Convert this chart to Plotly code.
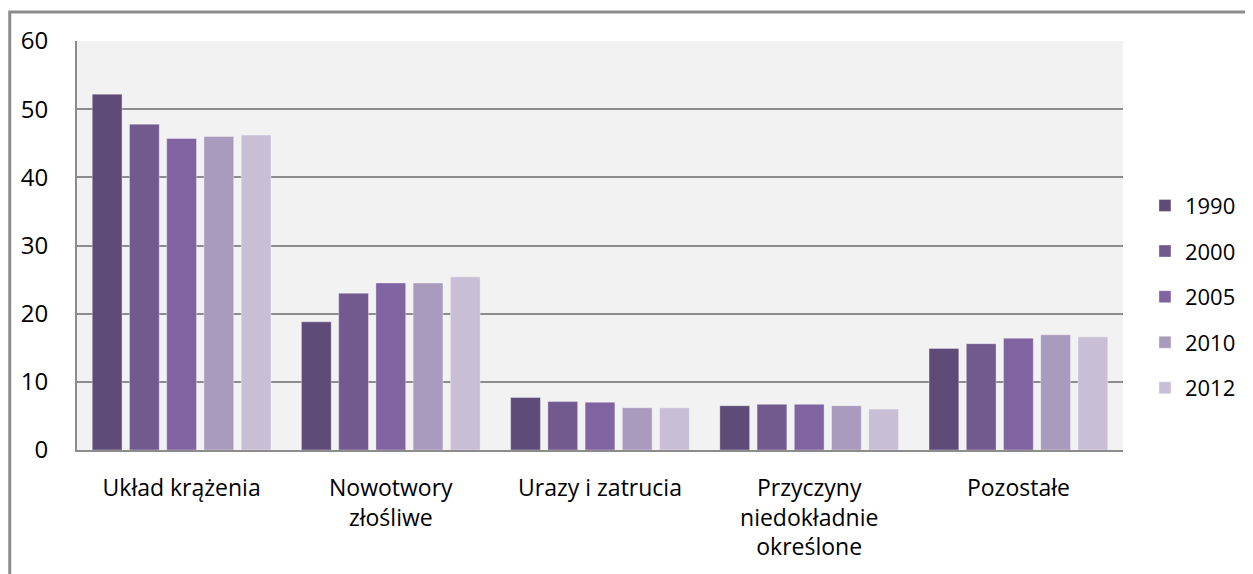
import plotly.graph_objects as go

categories = ["Układ krążenia", "Nowotwory<br>złośliwe", "Urazy i zatrucia",
              "Przyczyny<br>niedokładnie<br>określone", "Pozostałe"]
years = ["1990", "2000", "2005", "2010", "2012"]

v1990 = [52.2, 18.8, 7.7, 6.5, 14.9]
v2000 = [47.8, 23.0, 7.1, 6.7, 15.6]
v2005 = [45.7, 24.5, 7.0, 6.7, 16.4]
v2010 = [46.0, 24.5, 6.2, 6.5, 16.9]
v2012 = [46.2, 25.4, 6.2, 6.0, 16.6]

colors = ["#5F4B77", "#72598E", "#8064A2", "#A99BBD", "#C8BFD7"]
series = [v1990, v2000, v2005, v2010, v2012]

fig = go.Figure()
for year, vals, c in zip(years, series, colors):
    fig.add_trace(go.Bar(
        name=year, x=categories, y=vals,
        marker=dict(color=c, line=dict(color="rgba(255,255,255,0.35)", width=1)),
        legendgroup=year,
    ))

# page has an 8px body margin, so the figure is 8px smaller than the window
fig.update_layout(
    width=1245, height=566,
    margin=dict(l=69, r=126, t=33, b=124),
    paper_bgcolor="white",
    plot_bgcolor="#F2F2F2",
    font=dict(family="Open Sans", size=23, color="#000000"),
    barmode="group",
    bargap=0.11,
    bargroupgap=0.2,
    showlegend=True,
    legend=dict(
        x=1.021, xanchor="left", y=0.375, yanchor="middle",
        tracegroupgap=14, font=dict(size=22),
        bgcolor="rgba(0,0,0,0)",
    ),
)

fig.update_yaxes(
    range=[0, 60], dtick=10, tickfont=dict(size=24),
    showgrid=True, gridcolor="#8C8C8C", gridwidth=2,
    showline=True, linecolor="#8C8C8C", linewidth=2,
    zeroline=False, ticks="", ticklabelstandoff=22,
)
fig.update_xaxes(
    showline=True, linecolor="#8C8C8C", linewidth=2,
    ticks="", ticklabelstandoff=16, tickangle=0,
)

# outer chart border (only left and top edge visible)
fig.add_shape(
    type="rect", xref="paper", yref="paper",
    x0=-0.0643, x1=1.5, y0=-1.0, y1=1.0709,
    line=dict(color="#8C8C8C", width=3), fillcolor="rgba(0,0,0,0)",
    layer="below",
)

fig.write_html("out.html")
